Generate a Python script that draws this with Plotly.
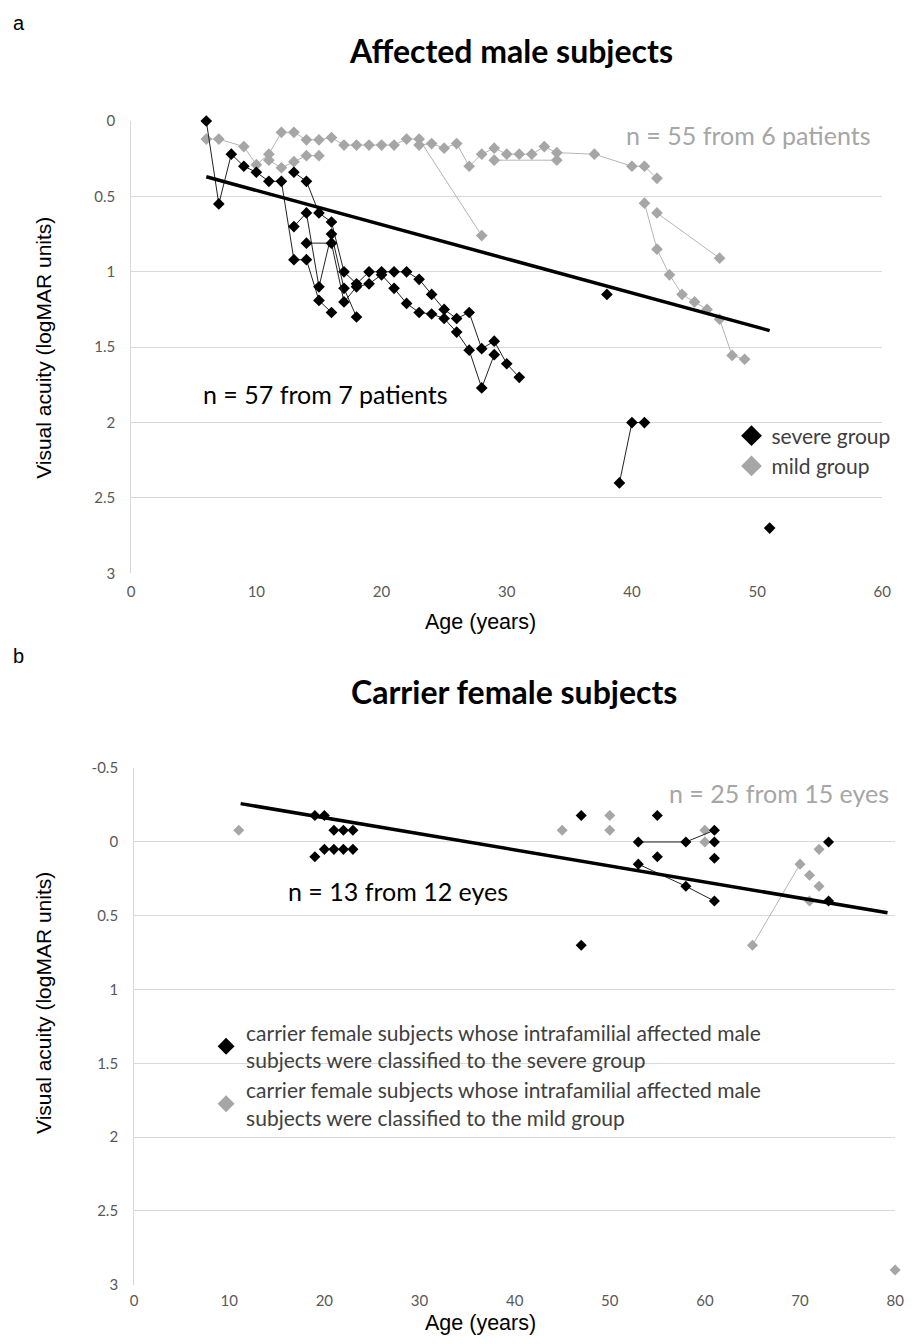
import plotly.graph_objects as go

# ---------------- Panel a: affected male subjects ----------------
# severe group (one list pair per patient)
sev1_age = [6, 7, 8, 9, 10, 11, 12, 13, 14, 15, 16]
sev1_va = [0.0, 0.55, 0.22, 0.30, 0.34, 0.40, 0.40, 0.92, 0.92, 1.19, 1.27]
sev2_age = [13, 14, 15, 16, 17, 18, 19, 20, 21, 22, 23, 24, 25, 26, 27, 28, 29, 30, 31]
sev2_va = [0.34, 0.40, 0.61, 0.67, 1.0, 1.08, 1.0, 1.0, 1.0, 1.0, 1.05, 1.15, 1.25, 1.31, 1.27, 1.51, 1.46, 1.61, 1.70]
sev3_age = [13, 14, 15, 16, 17, 18]
sev3_va = [0.70, 0.61, 1.10, 0.75, 1.11, 1.30]
sev4_age = [14, 16, 17, 18, 19, 20, 21, 22, 23, 24, 25, 26, 27, 28, 29]
sev4_va = [0.81, 0.81, 1.20, 1.10, 1.08, 1.02, 1.11, 1.21, 1.27, 1.28, 1.31, 1.40, 1.52, 1.77, 1.55]
sev5_age = [38]
sev5_va = [1.15]
sev6_age = [39, 40, 41]
sev6_va = [2.40, 2.0, 2.0]
sev7_age = [51]
sev7_va = [2.70]

# mild group
mild1_age = [6, 7, 9, 10, 11, 12, 13, 14, 15, 16, 17, 18, 19, 20, 21, 22, 23, 28]
mild1_va = [0.12, 0.12, 0.17, 0.29, 0.22, 0.075, 0.075, 0.125, 0.125, 0.11, 0.16, 0.16, 0.16, 0.16, 0.16, 0.12, 0.12, 0.76]
mild2_age = [11, 12, 13, 14, 15]
mild2_va = [0.26, 0.31, 0.27, 0.23, 0.23]
mild3_age = [23, 24, 25, 26, 27, 28, 29, 30, 31, 32, 33, 34, 37, 40, 41, 42]
mild3_va = [0.16, 0.15, 0.18, 0.15, 0.30, 0.22, 0.18, 0.22, 0.22, 0.22, 0.17, 0.21, 0.22, 0.30, 0.30, 0.38]
mild4_age = [41, 42, 43, 44, 45, 46, 47, 48, 49]
mild4_va = [0.545, 0.85, 1.02, 1.15, 1.20, 1.25, 1.315, 1.555, 1.58]
mild5_age = [42, 47]
mild5_va = [0.61, 0.91]
mild6_age = [29, 34]
mild6_va = [0.26, 0.26]

trend_a_age = [6, 51]
trend_a_va = [0.37, 1.39]

# ---------------- Panel b: carrier female subjects ----------------
carsev_pts_age = [19, 20, 21, 22, 23, 19, 20, 21, 22, 23, 47, 47, 55, 55, 61, 73, 73]
carsev_pts_va = [-0.18, -0.18, -0.08, -0.08, -0.08, 0.10, 0.05, 0.05, 0.05, 0.05, -0.18, 0.70, -0.18, 0.10, 0.11, 0.0, 0.40]
carsev_l1_age = [53, 58, 61]
carsev_l1_va = [0.0, 0.0, -0.08]
carsev_l2_age = [53, 58, 61]
carsev_l2_va = [0.15, 0.30, 0.40]
carsev_l3_age = [61]
carsev_l3_va = [0.0]

carmild_pts_age = [11, 45, 50, 50, 60, 60, 71, 72, 71, 72, 80]
carmild_pts_va = [-0.08, -0.08, -0.18, -0.08, -0.08, 0.0, 0.225, 0.30, 0.40, 0.05, 2.90]
carmild_l1_age = [65, 70]
carmild_l1_va = [0.70, 0.15]

trend_b_age = [11.2, 79.2]
trend_b_va = [-0.26, 0.48]

x_ticks_a = [0, 10, 20, 30, 40, 50, 60]
y_ticks_a = [0, 0.5, 1, 1.5, 2, 2.5, 3]
y_text_a = ["0", "0.5", "1", "1.5", "2", "2.5", "3"]
x_ticks_b = [0, 10, 20, 30, 40, 50, 60, 70, 80]
y_ticks_b = [-0.5, 0, 0.5, 1, 1.5, 2, 2.5, 3]
y_text_b = ["-0.5", "0", "0.5", "1", "1.5", "2", "2.5", "3"]

# ---------------- styling ----------------
W, H = 914, 1344
BLACK = "#000000"
GRAY = "#a6a6a6"
GRAYLINE = "#b4b4b4"
GRID = "#d9d9d9"
TICKC = "#595959"
CAL = "Lato"
ARIAL = "Liberation Sans"


def px(xp):
    return xp / W


def py(yp):
    return 1 - yp / H


fig = go.Figure()


def series(age, va, color, linecolor, xa, ya, lines=True, size=9):
    fig.add_trace(go.Scatter(
        x=age, y=va, xaxis=xa, yaxis=ya,
        mode="lines+markers" if lines else "markers",
        line=dict(color=linecolor, width=1),
        marker=dict(symbol="diamond", size=size, color=color, line=dict(width=0)),
        cliponaxis=False, showlegend=False, hoverinfo="x+y"))


# panel a: mild first, then severe
for a, v in [(mild1_age, mild1_va), (mild2_age, mild2_va), (mild3_age, mild3_va),
             (mild4_age, mild4_va), (mild5_age, mild5_va), (mild6_age, mild6_va)]:
    series(a, v, GRAY, GRAYLINE, "x", "y")
for a, v in [(sev1_age, sev1_va), (sev2_age, sev2_va), (sev3_age, sev3_va),
             (sev4_age, sev4_va), (sev5_age, sev5_va), (sev6_age, sev6_va), (sev7_age, sev7_va)]:
    series(a, v, BLACK, "#222222", "x", "y")
fig.add_trace(go.Scatter(x=trend_a_age, y=trend_a_va, xaxis="x", yaxis="y", mode="lines",
                         line=dict(color=BLACK, width=3.5), showlegend=False, hoverinfo="skip"))

# panel b
series(carmild_pts_age, carmild_pts_va, GRAY, GRAYLINE, "x2", "y2", lines=False, size=8.5)
series(carmild_l1_age, carmild_l1_va, GRAY, GRAYLINE, "x2", "y2", size=8.5)
series(carsev_pts_age, carsev_pts_va, BLACK, "#222222", "x2", "y2", lines=False, size=8.5)
for a, v in [(carsev_l1_age, carsev_l1_va), (carsev_l2_age, carsev_l2_va), (carsev_l3_age, carsev_l3_va)]:
    series(a, v, BLACK, "#222222", "x2", "y2", size=8.5)
fig.add_trace(go.Scatter(x=trend_b_age, y=trend_b_va, xaxis="x2", yaxis="y2", mode="lines",
                         line=dict(color=BLACK, width=3.5), showlegend=False, hoverinfo="skip"))

# legend entries
fig.add_trace(go.Scatter(x=[None], y=[None], xaxis="x", yaxis="y", mode="markers", name="severe group",
                         marker=dict(symbol="diamond", size=16, color=BLACK), legend="legend"))
fig.add_trace(go.Scatter(x=[None], y=[None], xaxis="x", yaxis="y", mode="markers", name="mild group",
                         marker=dict(symbol="diamond", size=16, color=GRAY), legend="legend"))
fig.add_trace(go.Scatter(x=[None], y=[None], xaxis="x2", yaxis="y2", mode="markers",
                         name="carrier female subjects whose intrafamilial affected male<br>subjects were classified to the severe group",
                         marker=dict(symbol="diamond", size=13, color=BLACK), legend="legend2"))
fig.add_trace(go.Scatter(x=[None], y=[None], xaxis="x2", yaxis="y2", mode="markers",
                         name="carrier female subjects whose intrafamilial affected male<br>subjects were classified to the mild group",
                         marker=dict(symbol="diamond", size=13, color=GRAY), legend="legend2"))

tickfont = dict(family=CAL, size=15, color=TICKC)
common_x = dict(showgrid=False, zeroline=False, showline=False, ticks="", tickfont=tickfont,
                fixedrange=True)
common_y = dict(showgrid=True, gridcolor=GRID, gridwidth=1, zeroline=False, showline=True,
                linecolor=GRID, linewidth=1, ticks="", tickfont=tickfont, ticklabelstandoff=12,
                autorange=False, fixedrange=True)
overlay_x = dict(showgrid=False, zeroline=False, showline=True, linecolor=GRID, linewidth=1,
                 ticks="outside", ticklen=5, tickcolor=GRID, showticklabels=False, side="top",
                 fixedrange=True)

fig.update_layout(
    width=W, height=H, margin=dict(l=0, r=0, t=0, b=0),
    plot_bgcolor="white", paper_bgcolor="white",
    xaxis=dict(domain=[px(129), px(891)], range=[0, 60], tickvals=x_ticks_a, anchor="y",
               ticklabelstandoff=8, **common_x),
    yaxis=dict(domain=[py(571), py(112.5)], range=[3, 0], tickvals=y_ticks_a, ticktext=y_text_a,
               anchor="x", **common_y),
    xaxis3=dict(overlaying="x", anchor="y", range=[0, 60], tickvals=x_ticks_a, **overlay_x),
    xaxis2=dict(domain=[px(132), px(904)], range=[0, 80], tickvals=x_ticks_b, anchor="y2",
                ticklabelstandoff=5, **common_x),
    yaxis2=dict(domain=[py(1292), py(768.5)], range=[3, -0.5], tickvals=y_ticks_b, ticktext=y_text_b,
                anchor="x2", **common_y),
    xaxis4=dict(overlaying="x2", anchor="free", position=py(843.5), range=[0, 80],
                tickvals=x_ticks_b, **overlay_x),
    legend=dict(x=px(738), y=py(411), xanchor="left", yanchor="top", bgcolor="rgba(0,0,0,0)",
                font=dict(family=CAL, size=21, color="#404040"), itemsizing="trace",
                tracegroupgap=0, itemwidth=30),
    legend2=dict(x=px(205), y=py(1016), xanchor="left", yanchor="top", bgcolor="rgba(0,0,0,0)",
                 font=dict(family=CAL, size=21, color="#404040"), itemsizing="trace",
                 tracegroupgap=0, itemwidth=30),
)

ann = []
# panel labels
ann.append(dict(text="a", x=px(7), y=py(13), xref="paper", yref="paper", xanchor="left", yanchor="middle",
                showarrow=False, font=dict(family=ARIAL, size=20, color="#000")))
ann.append(dict(text="b", x=px(7), y=py(655), xref="paper", yref="paper", xanchor="left", yanchor="middle",
                showarrow=False, font=dict(family=ARIAL, size=20, color="#000")))
# titles
ann.append(dict(text="<b>Affected male subjects</b>", x=px(514), y=py(41), xref="paper", yref="paper",
                xanchor="center", yanchor="middle", showarrow=False, font=dict(family=CAL, size=32, color="#000")))
ann.append(dict(text="<b>Carrier female subjects</b>", x=px(517), y=py(691), xref="paper", yref="paper",
                xanchor="center", yanchor="middle", showarrow=False, font=dict(family=CAL, size=32, color="#000")))
# axis titles
for yc in (342, 1006):
    ann.append(dict(text="Visual acuity (logMAR units)", x=px(40), y=py(yc), xref="paper", yref="paper",
                    xanchor="center", yanchor="middle", textangle=-90, showarrow=False,
                    font=dict(family=ARIAL, size=21, color="#000")))
for yc in (620, 1331):
    ann.append(dict(text="Age (years)", x=px(483), y=py(yc), xref="paper", yref="paper",
                    xanchor="center", yanchor="middle", showarrow=False,
                    font=dict(family=ARIAL, size=21.5, color="#000")))
# n annotations (data coordinates)
ann.append(dict(text="n = 55 from 6 patients", x=59.2, y=0.09, xref="x", yref="y", xanchor="right",
                yanchor="middle", showarrow=False, font=dict(family=CAL, size=25, color=GRAY)))
ann.append(dict(text="n = 57 from 7 patients", x=5.6, y=1.81, xref="x", yref="y", xanchor="left",
                yanchor="middle", showarrow=False, font=dict(family=CAL, size=25, color="#000")))
ann.append(dict(text="n = 25 from 15 eyes", x=79.6, y=-0.33, xref="x2", yref="y2", xanchor="right",
                yanchor="middle", showarrow=False, font=dict(family=CAL, size=25, color=GRAY)))
ann.append(dict(text="n = 13 from 12 eyes", x=16.0, y=0.33, xref="x2", yref="y2", xanchor="left",
                yanchor="middle", showarrow=False, font=dict(family=CAL, size=25, color="#000")))
fig.update_layout(annotations=ann)

fig.write_html("out.html")
